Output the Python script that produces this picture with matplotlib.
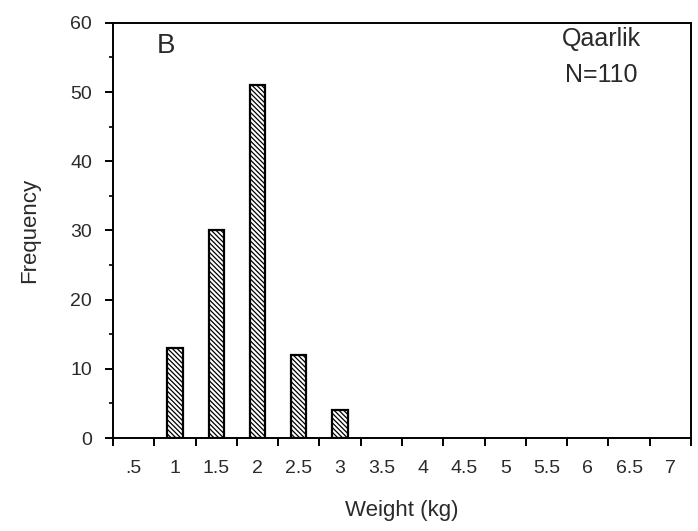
import matplotlib
matplotlib.use("Agg")
import matplotlib.pyplot as plt
from matplotlib.ticker import MultipleLocator

categories = ['.5', '1', '1.5', '2', '2.5', '3', '3.5', '4', '4.5', '5', '5.5', '6', '6.5', '7']
frequency = [0, 13, 30, 51, 12, 4, 0, 0, 0, 0, 0, 0, 0, 0]
site = "Qaarlik"
n_label = "N=110"
panel = "B"

plt.rcParams['font.family'] = ['Liberation Sans', 'DejaVu Sans']
plt.rcParams['hatch.linewidth'] = 0.9
plt.rcParams['hatch.color'] = 'black'

txt = '#2a2a2a'
fig = plt.figure(figsize=(6.98, 5.31), dpi=100)
ax = fig.add_axes([0.162, 0.175, 0.828, 0.782])

centers = [i + 0.5 for i in range(len(categories))]
for c, v in zip(centers, frequency):
    if v > 0:
        ax.bar(c, v, width=0.37, facecolor='white', edgecolor='black',
               linewidth=1.6, hatch='\\' * 7, zorder=3)

ax.set_xlim(0, len(categories))
ax.set_ylim(0, 60)

ax.set_xticks(range(len(categories) + 1))
ax.set_xticklabels([])
ax.set_xticks(centers, minor=True)
ax.set_xticklabels(categories, minor=True)
ax.tick_params(axis='x', which='major', direction='out', length=6, width=1.4, color='black')
ax.tick_params(axis='x', which='minor', length=0, pad=16, labelsize=14, labelcolor=txt)

ax.yaxis.set_major_locator(MultipleLocator(10))
ax.yaxis.set_minor_locator(MultipleLocator(5))
ax.tick_params(axis='y', which='major', direction='out', length=6, width=1.4,
               pad=9, labelsize=14, labelcolor=txt)
ax.tick_params(axis='y', which='minor', direction='out', length=3, width=1.2)

for s in ax.spines.values():
    s.set_linewidth(1.4)
    s.set_color('black')

ax.set_xlabel('Weight (kg)', fontsize=16, color=txt, labelpad=16)
ax.set_ylabel('Frequency', fontsize=16, color=txt, labelpad=22)

ax.text(0.092, 0.945, panel, transform=ax.transAxes, fontsize=20, color=txt,
        ha='center', va='center')
ax.text(0.845, 0.962, site, transform=ax.transAxes, fontsize=18, color=txt,
        ha='center', va='center')
ax.text(0.845, 0.875, n_label, transform=ax.transAxes, fontsize=18, color=txt,
        ha='center', va='center')

fig.savefig('out.png', dpi=100)
